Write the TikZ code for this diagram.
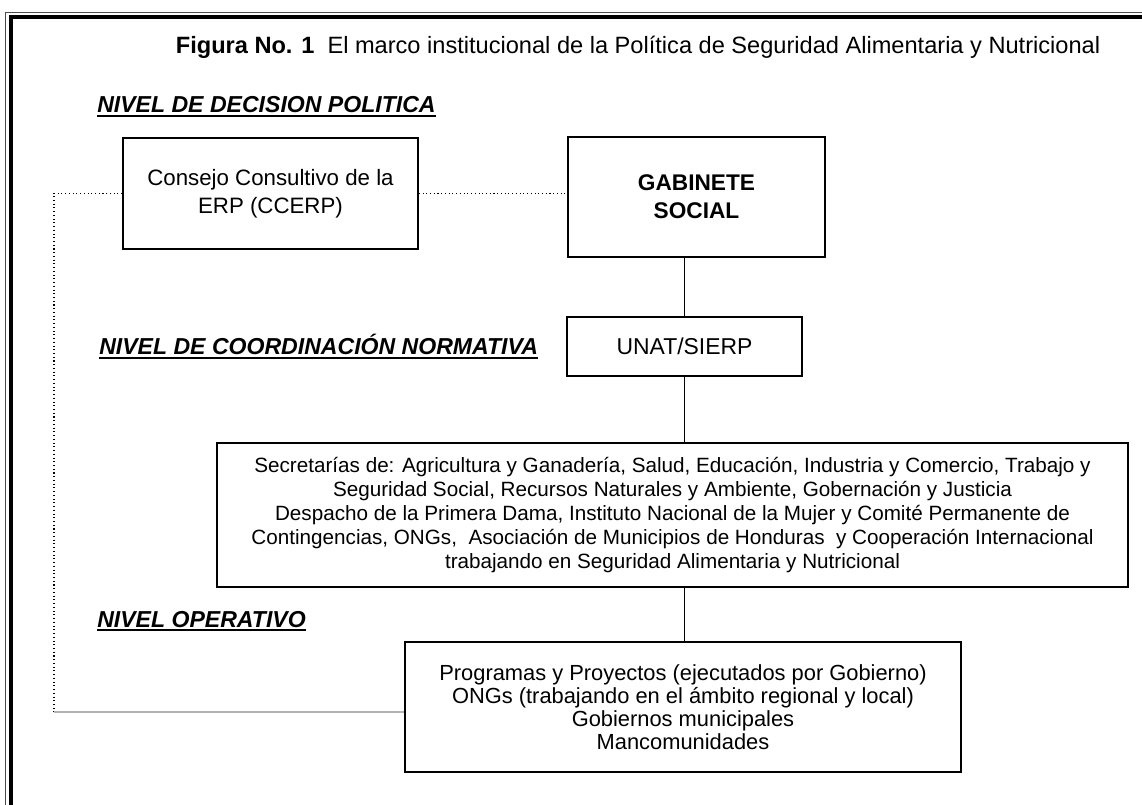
\documentclass[tikz,border=0pt]{standalone}
\usepackage{fontspec}
\setmainfont{Liberation Sans}
\usetikzlibrary{calc}

\begin{document}
\begin{tikzpicture}[
    x=0.75pt, y=-0.75pt,
    font=\fontsize{16.5}{19}\selectfont,
    box/.style={draw, line width=1.2pt, rectangle, align=center, inner sep=2pt},
    level/.style={anchor=base west, inner sep=0pt, font=\fontsize{17.3}{20}\selectfont\bfseries\itshape},
    uline/.style={line width=1.6pt},
    link/.style={line width=1.2pt},
    dotlink/.style={line width=0.8pt, dotted}
]
    \useasboundingbox (0,0) rectangle (1142,805);

    % Frame (top and left only)
    \draw[line width=1pt, black!70] (5.5,805) -- (5.5,12.5) -- (1142,12.5);
    \draw[line width=3pt] (11,805) -- (11,17) -- (1142,17);

    % Title
    \node[font=\fontsize{17.7}{20}\selectfont] (title) at (638,47) {\textbf{Figura No. 1}\ \ El marco institucional de la Política de Seguridad Alimentaria y Nutricional};

    % Level labels
    \node[level] (lvldec) at (97,113) {NIVEL DE DECISION POLITICA};
    \node[level] (lvlcoord) at (99,355) {NIVEL DE COORDINACIÓN NORMATIVA};
    \node[level] (lvlop) at (97,627) {NIVEL OPERATIVO};
    \foreach \l in {lvldec,lvlcoord,lvlop} {
        \draw[uline] ($(\l.base west)+(0,3)$) -- ($(\l.base east)+(0,3)$);
    }

    % Boxes
    \node[box, minimum width=221.25pt, minimum height=83.25pt, font=\fontsize{16.7}{21}\selectfont]
        (ccerp) at (270.5,193.5) {Consejo Consultivo de la\\ERP (CCERP)};
    \node[box, minimum width=192.75pt, minimum height=90pt, font=\fontsize{17}{21}\selectfont\bfseries]
        (gab) at (696.5,197) {GABINETE\\SOCIAL};
    \node[box, minimum width=176.25pt, minimum height=44.25pt, font=\fontsize{17.2}{20}\selectfont]
        (unat) at (684.5,346.5) {UNAT/SIERP};
    \node[box, minimum width=683.25pt, minimum height=108pt, font=\fontsize{15.5}{18}\selectfont]
        (secr) at (672.5,515) {Secretarías de: Agricultura y Ganadería, Salud, Educación, Industria y Comercio, Trabajo y\\
        Seguridad Social, Recursos Naturales y Ambiente, Gobernación y Justicia\\
        Despacho de la Primera Dama, Instituto Nacional de la Mujer y Comité Permanente de\\
        Contingencias, ONGs,\ \ Asociación de Municipios de Honduras\ \ y Cooperación Internacional\\
        trabajando en Seguridad Alimentaria y Nutricional};
    \node[box, minimum width=417pt, minimum height=97.5pt, font=\fontsize{16.4}{17.25}\selectfont]
        (prog) at (683,707) {Programas y Proyectos (ejecutados por Gobierno)\\
        ONGs (trabajando en el ámbito regional y local)\\
        Gobiernos municipales\\
        Mancomunidades};

    % Connectors
    \coordinate (bend) at (54,712);
    \draw[dotlink] (ccerp.east) -- (ccerp.east -| gab.west);
    \draw[dotlink] (ccerp.west) -| (bend);
    \draw[line width=1pt, black!30] (bend) -- (bend -| prog.west);
    \draw[link] (unat.north |- gab.south) -- (unat.north);
    \draw[link] (unat.south) -- (unat.south |- secr.north);
    \draw[link] (unat.south |- secr.south) -- (unat.south |- prog.north);

\end{tikzpicture}
\end{document}
